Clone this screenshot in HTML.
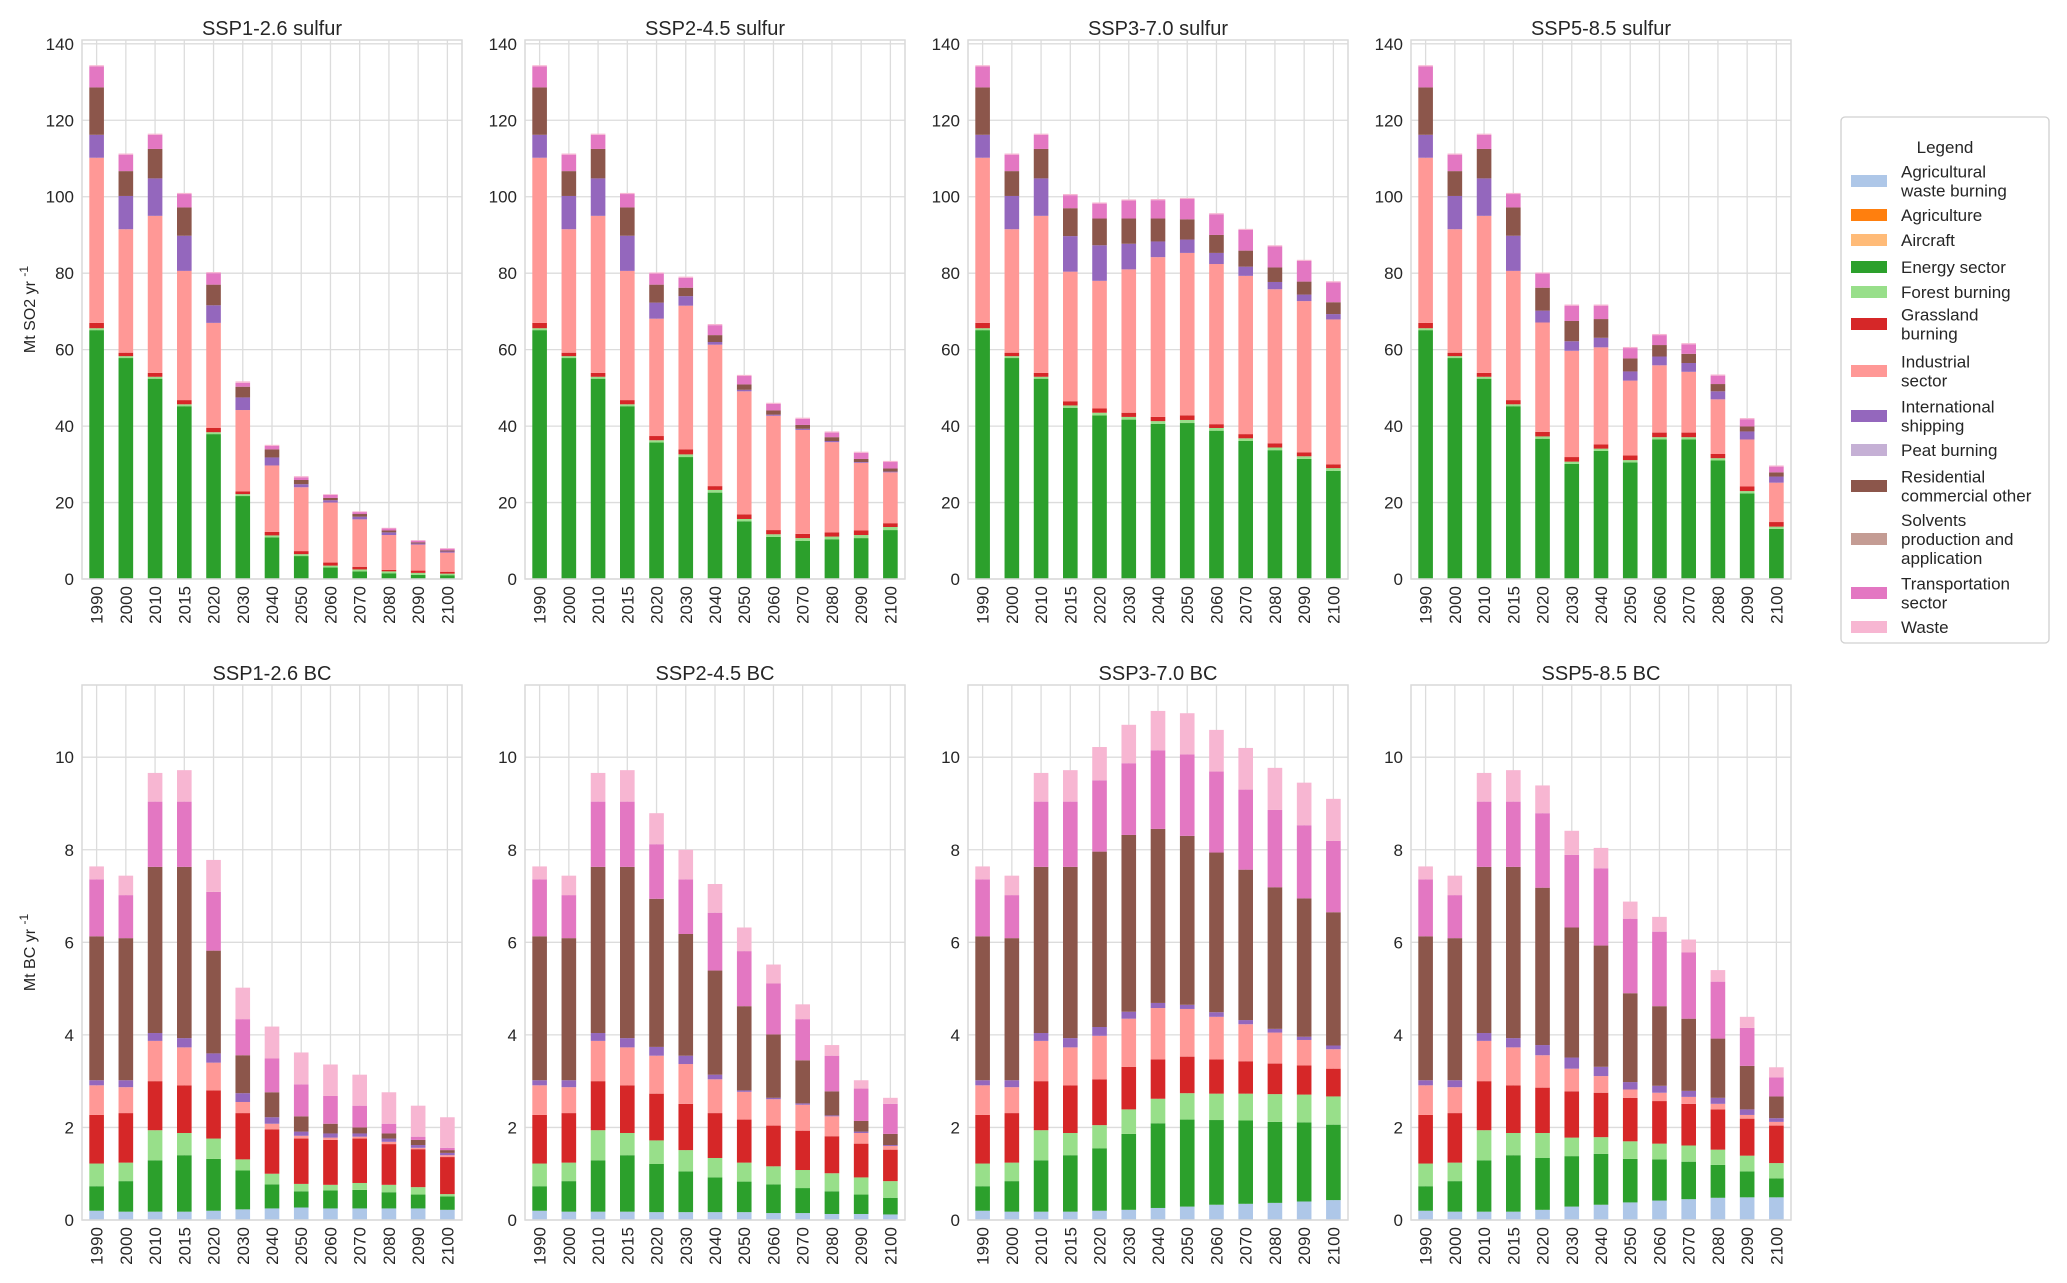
<!DOCTYPE html>
<html><head><meta charset="utf-8">
<style>
html,body{margin:0;padding:0;background:#fff;}
svg{display:block;font-family:"Liberation Sans",Arial,sans-serif;}
</style></head>
<body>
<svg id="chart" width="2067" height="1283" viewBox="0 0 2067 1283" xmlns="http://www.w3.org/2000/svg"></svg>
<script>
// ---------- data ----------
const years = ["1990","2000","2010","2015","2020","2030","2040","2050","2060","2070","2080","2090","2100"];
const so2Ticks = [0,20,40,60,80,100,120,140];
const bcTicks = [0,2,4,6,8,10];
const scenarios = ["SSP1-2.6","SSP2-4.5","SSP3-7.0","SSP5-8.5"];

// Cumulative stacked tops (Mt SO2/yr) per sector
const so2_ssp1_energy = [65.1,57.8,52.4,45.2,37.9,21.7,10.9,6.0,3.0,2.0,1.5,1.1,1.0];
const so2_ssp1_forest = [65.6,58.3,52.9,45.7,38.4,22.2,11.4,6.5,3.5,2.5,2.0,1.6,1.4];
const so2_ssp1_grass = [67.0,59.2,53.9,46.8,39.5,22.9,12.3,7.3,4.3,3.2,2.4,2.2,1.9];
const so2_ssp1_industrial = [110.2,91.5,95.0,80.6,67.0,44.2,29.7,24.0,20.0,15.6,11.5,9.0,6.9];
const so2_ssp1_shipping = [116.2,100.2,104.8,89.8,71.6,47.5,31.8,24.8,20.6,16.3,12.2,9.3,7.2];
const so2_ssp1_residential = [128.6,106.7,112.5,97.2,77.0,50.3,33.9,25.9,21.2,17.0,12.7,9.6,7.5];
const so2_ssp1_transport = [134.1,111.0,116.2,100.7,80.0,51.3,34.8,26.6,22.0,17.5,13.2,10.0,7.9];
const so2_ssp1_waste = [134.4,111.3,116.5,101.0,80.3,51.7,35.1,26.9,22.2,17.7,13.4,10.2,8.1];

const so2_ssp2_energy = [65.1,57.8,52.4,45.2,35.7,31.9,22.6,15.1,11.0,10.0,10.4,10.7,12.8];
const so2_ssp2_forest = [65.6,58.3,52.9,45.7,36.3,32.6,23.3,15.7,11.7,10.7,11.1,11.5,13.6];
const so2_ssp2_grass = [67.0,59.2,53.9,46.8,37.4,33.9,24.3,16.9,12.8,11.8,12.2,12.7,14.6];
const so2_ssp2_industrial = [110.2,91.5,95.0,80.6,68.1,71.5,61.3,49.1,42.7,39.0,35.8,30.4,27.9];
const so2_ssp2_shipping = [116.2,100.2,104.8,89.8,72.3,74.0,62.0,49.5,43.0,39.3,36.1,30.6,28.1];
const so2_ssp2_residential = [128.6,106.7,112.5,97.2,77.0,76.2,63.8,50.9,44.1,40.3,37.1,31.4,28.9];
const so2_ssp2_transport = [134.1,111.0,116.2,100.7,79.9,78.8,66.4,53.1,45.8,41.9,38.3,33.0,30.6];
const so2_ssp2_waste = [134.4,111.3,116.5,101.0,80.2,79.1,66.7,53.4,46.1,42.2,38.6,33.3,30.9];

const so2_ssp3_energy = [65.1,57.8,52.4,44.8,42.8,41.7,40.6,40.8,38.8,36.1,33.7,31.4,28.3];
const so2_ssp3_forest = [65.6,58.3,52.9,45.4,43.5,42.4,41.3,41.6,39.5,36.8,34.4,32.1,29.0];
const so2_ssp3_grass = [67.0,59.2,53.9,46.5,44.6,43.5,42.4,42.8,40.5,37.9,35.5,33.1,30.0];
const so2_ssp3_industrial = [110.2,91.5,95.0,80.4,78.0,81.0,84.2,85.3,82.4,79.3,75.8,72.7,67.9];
const so2_ssp3_shipping = [116.2,100.2,104.8,89.7,87.3,87.7,88.3,88.8,85.3,81.7,77.7,74.4,69.3];
const so2_ssp3_residential = [128.6,106.7,112.5,97.0,94.3,94.3,94.3,94.1,90.0,85.9,81.5,77.8,72.4];
const so2_ssp3_transport = [134.1,111.0,116.2,100.4,98.2,99.0,99.1,99.4,95.4,91.3,87.0,83.2,77.6];
const so2_ssp3_waste = [134.4,111.3,116.5,100.7,98.5,99.3,99.4,99.7,95.7,91.6,87.3,83.5,77.9];

const so2_ssp5_energy = [65.1,57.8,52.4,45.2,36.7,30.1,33.5,30.5,36.5,36.5,31.0,22.4,13.1];
const so2_ssp5_forest = [65.6,58.3,52.9,45.7,37.3,30.7,34.1,31.1,37.1,37.1,31.6,23.0,13.7];
const so2_ssp5_grass = [67.0,59.2,53.9,46.8,38.5,31.9,35.2,32.3,38.3,38.3,32.7,24.2,14.9];
const so2_ssp5_industrial = [110.2,91.5,95.0,80.6,67.1,59.7,60.6,51.9,55.9,54.2,47.0,36.5,25.2];
const so2_ssp5_shipping = [116.2,100.2,104.8,89.8,70.2,62.2,63.1,54.3,58.2,56.5,49.1,38.6,26.8];
const so2_ssp5_residential = [128.6,106.7,112.5,97.2,76.2,67.5,68.0,57.7,61.2,58.9,51.0,39.9,27.9];
const so2_ssp5_transport = [134.1,111.0,116.2,100.7,79.9,71.5,71.5,60.4,63.8,61.4,53.2,41.8,29.4];
const so2_ssp5_waste = [134.4,111.3,116.5,101.0,80.2,71.8,71.8,60.7,64.1,61.7,53.5,42.1,29.7];

// Cumulative stacked tops (Mt BC/yr)
const bc_ssp1_agwaste = [0.20,0.18,0.18,0.18,0.20,0.23,0.25,0.27,0.25,0.25,0.25,0.25,0.22];
const bc_ssp1_energy = [0.73,0.84,1.29,1.40,1.32,1.07,0.77,0.62,0.64,0.65,0.60,0.55,0.51];
const bc_ssp1_forest = [1.22,1.24,1.94,1.88,1.76,1.31,1.00,0.78,0.76,0.80,0.76,0.71,0.56];
const bc_ssp1_grass = [2.27,2.31,3.00,2.91,2.80,2.31,1.96,1.76,1.73,1.76,1.64,1.53,1.36];
const bc_ssp1_industrial = [2.91,2.87,3.87,3.73,3.40,2.55,2.08,1.82,1.78,1.80,1.69,1.56,1.40];
const bc_ssp1_shipping = [3.02,3.02,4.04,3.93,3.60,2.74,2.22,1.91,1.87,1.87,1.76,1.62,1.45];
const bc_ssp1_residential = [6.13,6.09,7.63,7.63,5.82,3.56,2.76,2.24,2.08,2.00,1.87,1.73,1.51];
const bc_ssp1_transport = [7.36,7.02,9.04,9.04,7.09,4.34,3.49,2.93,2.68,2.47,2.08,1.80,1.56];
const bc_ssp1_waste = [7.64,7.44,9.66,9.72,7.78,5.02,4.18,3.62,3.36,3.14,2.76,2.47,2.22];

const bc_ssp2_agwaste = [0.20,0.18,0.18,0.18,0.17,0.17,0.17,0.17,0.15,0.15,0.13,0.13,0.12];
const bc_ssp2_energy = [0.73,0.84,1.29,1.40,1.21,1.05,0.92,0.83,0.77,0.69,0.62,0.55,0.48];
const bc_ssp2_forest = [1.22,1.24,1.94,1.88,1.72,1.51,1.34,1.24,1.16,1.08,1.01,0.92,0.84];
const bc_ssp2_grass = [2.27,2.31,3.00,2.91,2.73,2.51,2.31,2.17,2.04,1.93,1.81,1.65,1.52];
const bc_ssp2_industrial = [2.91,2.87,3.87,3.73,3.55,3.37,3.04,2.77,2.61,2.49,2.24,1.88,1.60];
const bc_ssp2_shipping = [3.02,3.02,4.04,3.93,3.74,3.55,3.14,2.80,2.64,2.52,2.26,1.91,1.62];
const bc_ssp2_residential = [6.13,6.09,7.63,7.63,6.94,6.18,5.39,4.62,4.01,3.45,2.78,2.14,1.86];
const bc_ssp2_transport = [7.36,7.02,9.04,9.04,8.12,7.36,6.64,5.81,5.11,4.34,3.55,2.84,2.51];
const bc_ssp2_waste = [7.64,7.44,9.66,9.72,8.79,8.00,7.26,6.32,5.52,4.66,3.78,3.02,2.64];

const bc_ssp3_agwaste = [0.20,0.18,0.18,0.18,0.20,0.22,0.26,0.29,0.33,0.35,0.37,0.40,0.43];
const bc_ssp3_energy = [0.73,0.84,1.29,1.40,1.55,1.86,2.09,2.17,2.16,2.15,2.12,2.11,2.06];
const bc_ssp3_forest = [1.22,1.24,1.94,1.88,2.05,2.39,2.62,2.74,2.73,2.73,2.72,2.71,2.67];
const bc_ssp3_grass = [2.27,2.31,3.00,2.91,3.04,3.31,3.47,3.53,3.47,3.43,3.38,3.34,3.27];
const bc_ssp3_industrial = [2.91,2.87,3.87,3.73,3.98,4.35,4.58,4.56,4.39,4.23,4.05,3.89,3.69];
const bc_ssp3_shipping = [3.02,3.02,4.04,3.93,4.17,4.50,4.69,4.65,4.49,4.32,4.13,3.96,3.77];
const bc_ssp3_residential = [6.13,6.09,7.63,7.63,7.96,8.32,8.45,8.30,7.94,7.57,7.19,6.95,6.65];
const bc_ssp3_transport = [7.36,7.02,9.04,9.04,9.50,9.87,10.15,10.06,9.69,9.30,8.86,8.53,8.19];
const bc_ssp3_waste = [7.64,7.44,9.66,9.72,10.22,10.70,11.00,10.95,10.59,10.20,9.77,9.45,9.10];

const bc_ssp5_agwaste = [0.20,0.18,0.18,0.18,0.22,0.29,0.33,0.38,0.42,0.45,0.48,0.49,0.49];
const bc_ssp5_energy = [0.73,0.84,1.29,1.40,1.34,1.38,1.43,1.32,1.31,1.26,1.19,1.05,0.90];
const bc_ssp5_forest = [1.22,1.24,1.94,1.88,1.88,1.78,1.79,1.70,1.65,1.61,1.52,1.39,1.23];
const bc_ssp5_grass = [2.27,2.31,3.00,2.91,2.86,2.78,2.75,2.64,2.57,2.51,2.39,2.19,2.04];
const bc_ssp5_industrial = [2.91,2.87,3.87,3.73,3.56,3.27,3.11,2.82,2.75,2.66,2.51,2.27,2.12];
const bc_ssp5_shipping = [3.02,3.02,4.04,3.93,3.78,3.51,3.31,2.98,2.90,2.79,2.64,2.39,2.20];
const bc_ssp5_residential = [6.13,6.09,7.63,7.63,7.18,6.32,5.93,4.90,4.62,4.35,3.92,3.33,2.67];
const bc_ssp5_transport = [7.36,7.02,9.04,9.04,8.79,7.89,7.60,6.51,6.23,5.78,5.15,4.15,3.08];
const bc_ssp5_waste = [7.64,7.44,9.66,9.72,9.39,8.41,8.04,6.88,6.55,6.06,5.40,4.39,3.30];

const legendLabels = [["Agricultural","waste burning"],["Agriculture"],["Aircraft"],["Energy sector"],["Forest burning"],["Grassland","burning"],["Industrial","sector"],["International","shipping"],["Peat burning"],["Residential","commercial other"],["Solvents","production and","application"],["Transportation","sector"],["Waste"]];
const legendColors = ["#aec7e8","#ff7f0e","#ffbb78","#2ca02c","#98df8a","#d62728","#ff9896","#9467bd","#c5b0d5","#8c564b","#c49c94","#e377c2","#f7b6d2"];

// ---------- drawing ----------
const NS="http://www.w3.org/2000/svg";
const svg=document.getElementById('chart');
function mk(tag,attrs,parent){const e=document.createElementNS(NS,tag);for(const k in attrs)e.setAttribute(k,attrs[k]);(parent||svg).appendChild(e);return e;}

const so2Sectors=[
 ["energy-sector","#2ca02c",[so2_ssp1_energy,so2_ssp2_energy,so2_ssp3_energy,so2_ssp5_energy]],
 ["forest-burning","#98df8a",[so2_ssp1_forest,so2_ssp2_forest,so2_ssp3_forest,so2_ssp5_forest]],
 ["grassland-burning","#d62728",[so2_ssp1_grass,so2_ssp2_grass,so2_ssp3_grass,so2_ssp5_grass]],
 ["industrial-sector","#ff9896",[so2_ssp1_industrial,so2_ssp2_industrial,so2_ssp3_industrial,so2_ssp5_industrial]],
 ["international-shipping","#9467bd",[so2_ssp1_shipping,so2_ssp2_shipping,so2_ssp3_shipping,so2_ssp5_shipping]],
 ["residential","#8c564b",[so2_ssp1_residential,so2_ssp2_residential,so2_ssp3_residential,so2_ssp5_residential]],
 ["transportation","#e377c2",[so2_ssp1_transport,so2_ssp2_transport,so2_ssp3_transport,so2_ssp5_transport]],
 ["waste","#f7b6d2",[so2_ssp1_waste,so2_ssp2_waste,so2_ssp3_waste,so2_ssp5_waste]]
];
const bcSectors=[
 ["agricultural-waste-burning","#aec7e8",[bc_ssp1_agwaste,bc_ssp2_agwaste,bc_ssp3_agwaste,bc_ssp5_agwaste]],
 ["energy-sector","#2ca02c",[bc_ssp1_energy,bc_ssp2_energy,bc_ssp3_energy,bc_ssp5_energy]],
 ["forest-burning","#98df8a",[bc_ssp1_forest,bc_ssp2_forest,bc_ssp3_forest,bc_ssp5_forest]],
 ["grassland-burning","#d62728",[bc_ssp1_grass,bc_ssp2_grass,bc_ssp3_grass,bc_ssp5_grass]],
 ["industrial-sector","#ff9896",[bc_ssp1_industrial,bc_ssp2_industrial,bc_ssp3_industrial,bc_ssp5_industrial]],
 ["international-shipping","#9467bd",[bc_ssp1_shipping,bc_ssp2_shipping,bc_ssp3_shipping,bc_ssp5_shipping]],
 ["residential","#8c564b",[bc_ssp1_residential,bc_ssp2_residential,bc_ssp3_residential,bc_ssp5_residential]],
 ["transportation","#e377c2",[bc_ssp1_transport,bc_ssp2_transport,bc_ssp3_transport,bc_ssp5_transport]],
 ["waste","#f7b6d2",[bc_ssp1_waste,bc_ssp2_waste,bc_ssp3_waste,bc_ssp5_waste]]
];

const lefts=[82,525,968,1411], W=380;
function panel(pi,kind){
  const isS=kind==='so2';
  const top=isS?40:685, bot=isS?579:1220, ymax=isS?141:11.56;
  const ticks=isS?so2Ticks:bcTicks;
  const sectors=isS?so2Sectors:bcSectors;
  const L=lefts[pi];
  const y=v=>bot-(v/ymax)*(bot-top);
  const step=W/years.length;
  const x=i=>L+step*(i+0.5);
  const g=mk('g',{});
  
  
  ticks.forEach(t=>{
    const l=mk('line',{x1:L,x2:L+W,y1:y(t),y2:y(t),stroke:'#dcdcdc','stroke-width':1.3},g);
    
    
    const tx=mk('text',{x:L-8,y:y(t)+6,'text-anchor':'end','font-size':17,fill:'#262626'},g);
    tx.textContent=t;
    
    
  });
  years.forEach((yr,i)=>{
    const l=mk('line',{x1:x(i),x2:x(i),y1:top,y2:bot,stroke:'#dcdcdc','stroke-width':1.3},g);
    
    
    const tx=mk('text',{x:0,y:0,'text-anchor':'end','font-size':17,fill:'#262626',transform:`translate(${x(i)+6},${bot+7}) rotate(-90)`},g);
    tx.textContent=yr;
    
    
  });
  const bw=step*0.5;
  years.forEach((yr,i)=>{
    let prev=0;
    sectors.forEach(s=>{
      const topv=s[2][pi][i];
      const v=Math.max(0,topv-prev);
      if(v>0){
        const r=mk('rect',{x:x(i)-bw/2,y:y(prev+v),width:bw,height:Math.max(0,y(prev)-y(prev+v)),fill:s[1]},g);
        
        
      }
      prev=Math.max(prev,topv);
    });
  });
  const fr=mk('rect',{x:L,y:top,width:W,height:bot-top,fill:'none',stroke:'#d9d9d9','stroke-width':1.5},g);
  
  
  const tt=mk('text',{x:L+W/2,y:top-5,'text-anchor':'middle','font-size':20,fill:'#262626'},g);
  tt.textContent=scenarios[pi]+(isS?' sulfur':' BC');
  
  
  if(pi===0){
    const cy=(top+bot)/2;
    const yl=mk('text',{x:0,y:0,'text-anchor':'middle','font-size':16,fill:'#262626',transform:`translate(35,${cy}) rotate(-90)`},g);
    yl.innerHTML=(isS?'Mt SO2 yr ':'Mt BC yr ')+'<tspan dy="-7" font-size="12">-1</tspan>';
    
    
  }
}
for(let p=0;p<4;p++){panel(p,'so2');panel(p,'bc');}

// legend
const lg=mk('g',{});


mk('rect',{x:1841,y:117,width:208,height:526,rx:4,fill:'#fff',stroke:'#d0d0d0','stroke-width':1.3},lg);
const lt=mk('text',{x:1945,y:153,'text-anchor':'middle','font-size':17,fill:'#262626'},lg);
lt.textContent='Legend';


const centers=[181,215,240,267,292,324,371,416,450,486,539,593,627];
legendLabels.forEach((lab,i)=>{
  const c=centers[i];
  const e=mk('g',{},lg);
  
  
  mk('rect',{x:1851,y:c-6,width:36,height:12,fill:legendColors[i]},e);
  const lh=19, n=lab.length;
  lab.forEach((line,j)=>{
    const t=mk('text',{x:1901,y:c+6+(j-(n-1)/2)*lh,'font-size':17,fill:'#262626'},e);
    t.textContent=line;
  });
});
</script>
</body></html>
